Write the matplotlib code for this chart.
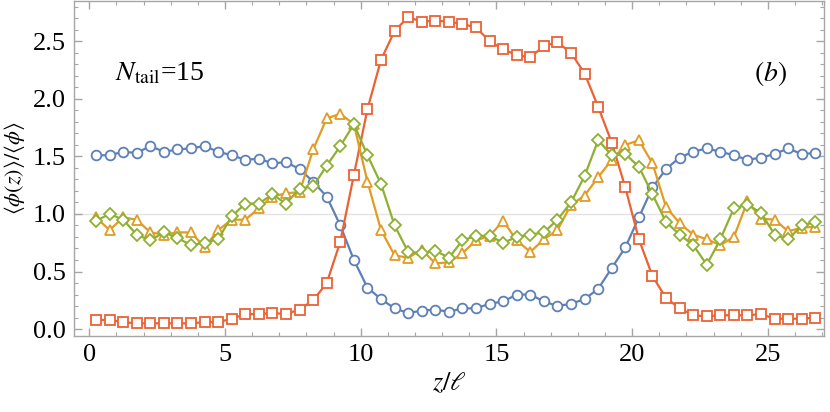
import numpy as np
import matplotlib
matplotlib.use("Agg")
from matplotlib import pyplot as plt
from matplotlib.ticker import MultipleLocator

plt.rcParams['font.family'] = ['Liberation Serif', 'DejaVu Serif']
plt.rcParams['mathtext.fontset'] = 'stix'

# posisi z (pusat bin)
z = np.arange(54) * 0.5 + 0.25

blue = [1.51, 1.51, 1.54, 1.53, 1.59, 1.54, 1.56, 1.57, 1.59, 1.54,
        1.51, 1.47, 1.48, 1.44, 1.45, 1.39, 1.28, 1.15, 0.90, 0.60,
        0.36, 0.26, 0.18, 0.14, 0.16, 0.17, 0.15, 0.18, 0.18, 0.22,
        0.24, 0.30, 0.30, 0.24, 0.20, 0.22, 0.26, 0.35, 0.53, 0.71,
        0.97, 1.23, 1.39, 1.49, 1.54, 1.57, 1.54, 1.51, 1.47, 1.49,
        1.52, 1.57, 1.52, 1.53]
red = [0.08, 0.08, 0.06, 0.05, 0.05, 0.05, 0.05, 0.05, 0.06, 0.06,
       0.09, 0.13, 0.13, 0.14, 0.13, 0.17, 0.25, 0.40, 0.76, 1.34,
       1.91, 2.34, 2.59, 2.71, 2.67, 2.68, 2.67, 2.65, 2.62, 2.50,
       2.43, 2.38, 2.36, 2.46, 2.49, 2.40, 2.22, 1.93, 1.62, 1.23,
       0.78, 0.46, 0.27, 0.18, 0.12, 0.11, 0.12, 0.12, 0.12, 0.13,
       0.09, 0.09, 0.09, 0.10]
orange = [0.97, 0.86, 0.97, 0.95, 0.84, 0.82, 0.84, 0.84, 0.71, 0.86,
          0.95, 0.95, 1.05, 1.15, 1.18, 1.19, 1.56, 1.83, 1.87, 1.78,
          1.28, 0.86, 0.64, 0.62, 0.69, 0.57, 0.58, 0.66, 0.77, 0.81,
          0.94, 0.77, 0.67, 0.78, 0.86, 1.08, 1.16, 1.32, 1.47, 1.60,
          1.64, 1.44, 1.06, 0.92, 0.82, 0.78, 0.73, 0.80, 1.11, 0.96,
          0.95, 0.85, 0.88, 0.89]
green = [0.94, 1.00, 0.95, 0.82, 0.77, 0.84, 0.79, 0.73, 0.75, 0.78,
         0.98, 1.09, 1.09, 1.17, 1.09, 1.22, 1.24, 1.42, 1.59, 1.78,
         1.51, 1.26, 0.90, 0.67, 0.66, 0.68, 0.62, 0.77, 0.81, 0.81,
         0.75, 0.80, 0.82, 0.84, 0.95, 1.10, 1.33, 1.64, 1.51, 1.52,
         1.41, 1.17, 0.93, 0.82, 0.73, 0.56, 0.78, 1.05, 1.08, 1.01,
         0.82, 0.78, 0.90, 0.93]

fig = plt.figure(figsize=(8.3, 4.12), dpi=100)
ax = fig.add_axes([0.0892, 0.1845, 0.9036, 0.8131])

ax.axhline(1.0, color='#e3e3e3', lw=1.0, zorder=0)

gaya = dict(lw=1.6, mfc='white', mew=1.3)
ax.plot(z, blue, '-o', color='#5E81B5', ms=7.0, **gaya)
ax.plot(z, red, '-s', color='#EB6235', ms=6.5, **gaya)
ax.plot(z, orange, '-^', color='#E19C24', ms=7.5, **gaya)
ax.plot(z, green, '-D', color='#8FB032', ms=6.0, **gaya)

ax.set_xlim(-0.56, 27.07)
ax.set_ylim(-0.06, 2.85)
ax.xaxis.set_major_locator(MultipleLocator(5))
ax.xaxis.set_minor_locator(MultipleLocator(1))
ax.yaxis.set_major_locator(MultipleLocator(0.5))
ax.yaxis.set_minor_locator(MultipleLocator(0.1))
ax.yaxis.set_major_formatter(plt.FuncFormatter(lambda v, p: '%.1f' % v))

for s in ax.spines.values():
    s.set_color('#a6a6a6')
    s.set_linewidth(1.0)
ax.tick_params(which='both', direction='in', top=True, right=True,
               color='#a6a6a6', labelsize=19, pad=6)
ax.tick_params(which='major', length=6, width=1.0)
ax.tick_params(which='minor', length=3, width=0.8)

ax.set_xlabel(r'$z/\ell$', fontsize=19, labelpad=3)
ax.set_ylabel(r'$\langle\phi(z)\rangle/\langle\phi\rangle$', fontsize=16, labelpad=4)

ax.text(0.95, 2.22, r'$N_{\rm tail}$=15', fontsize=20, va='center')
ax.text(25.1, 2.22, r'$(b)$', fontsize=20, va='center', ha='center')

plt.savefig('out.png', dpi=100)
